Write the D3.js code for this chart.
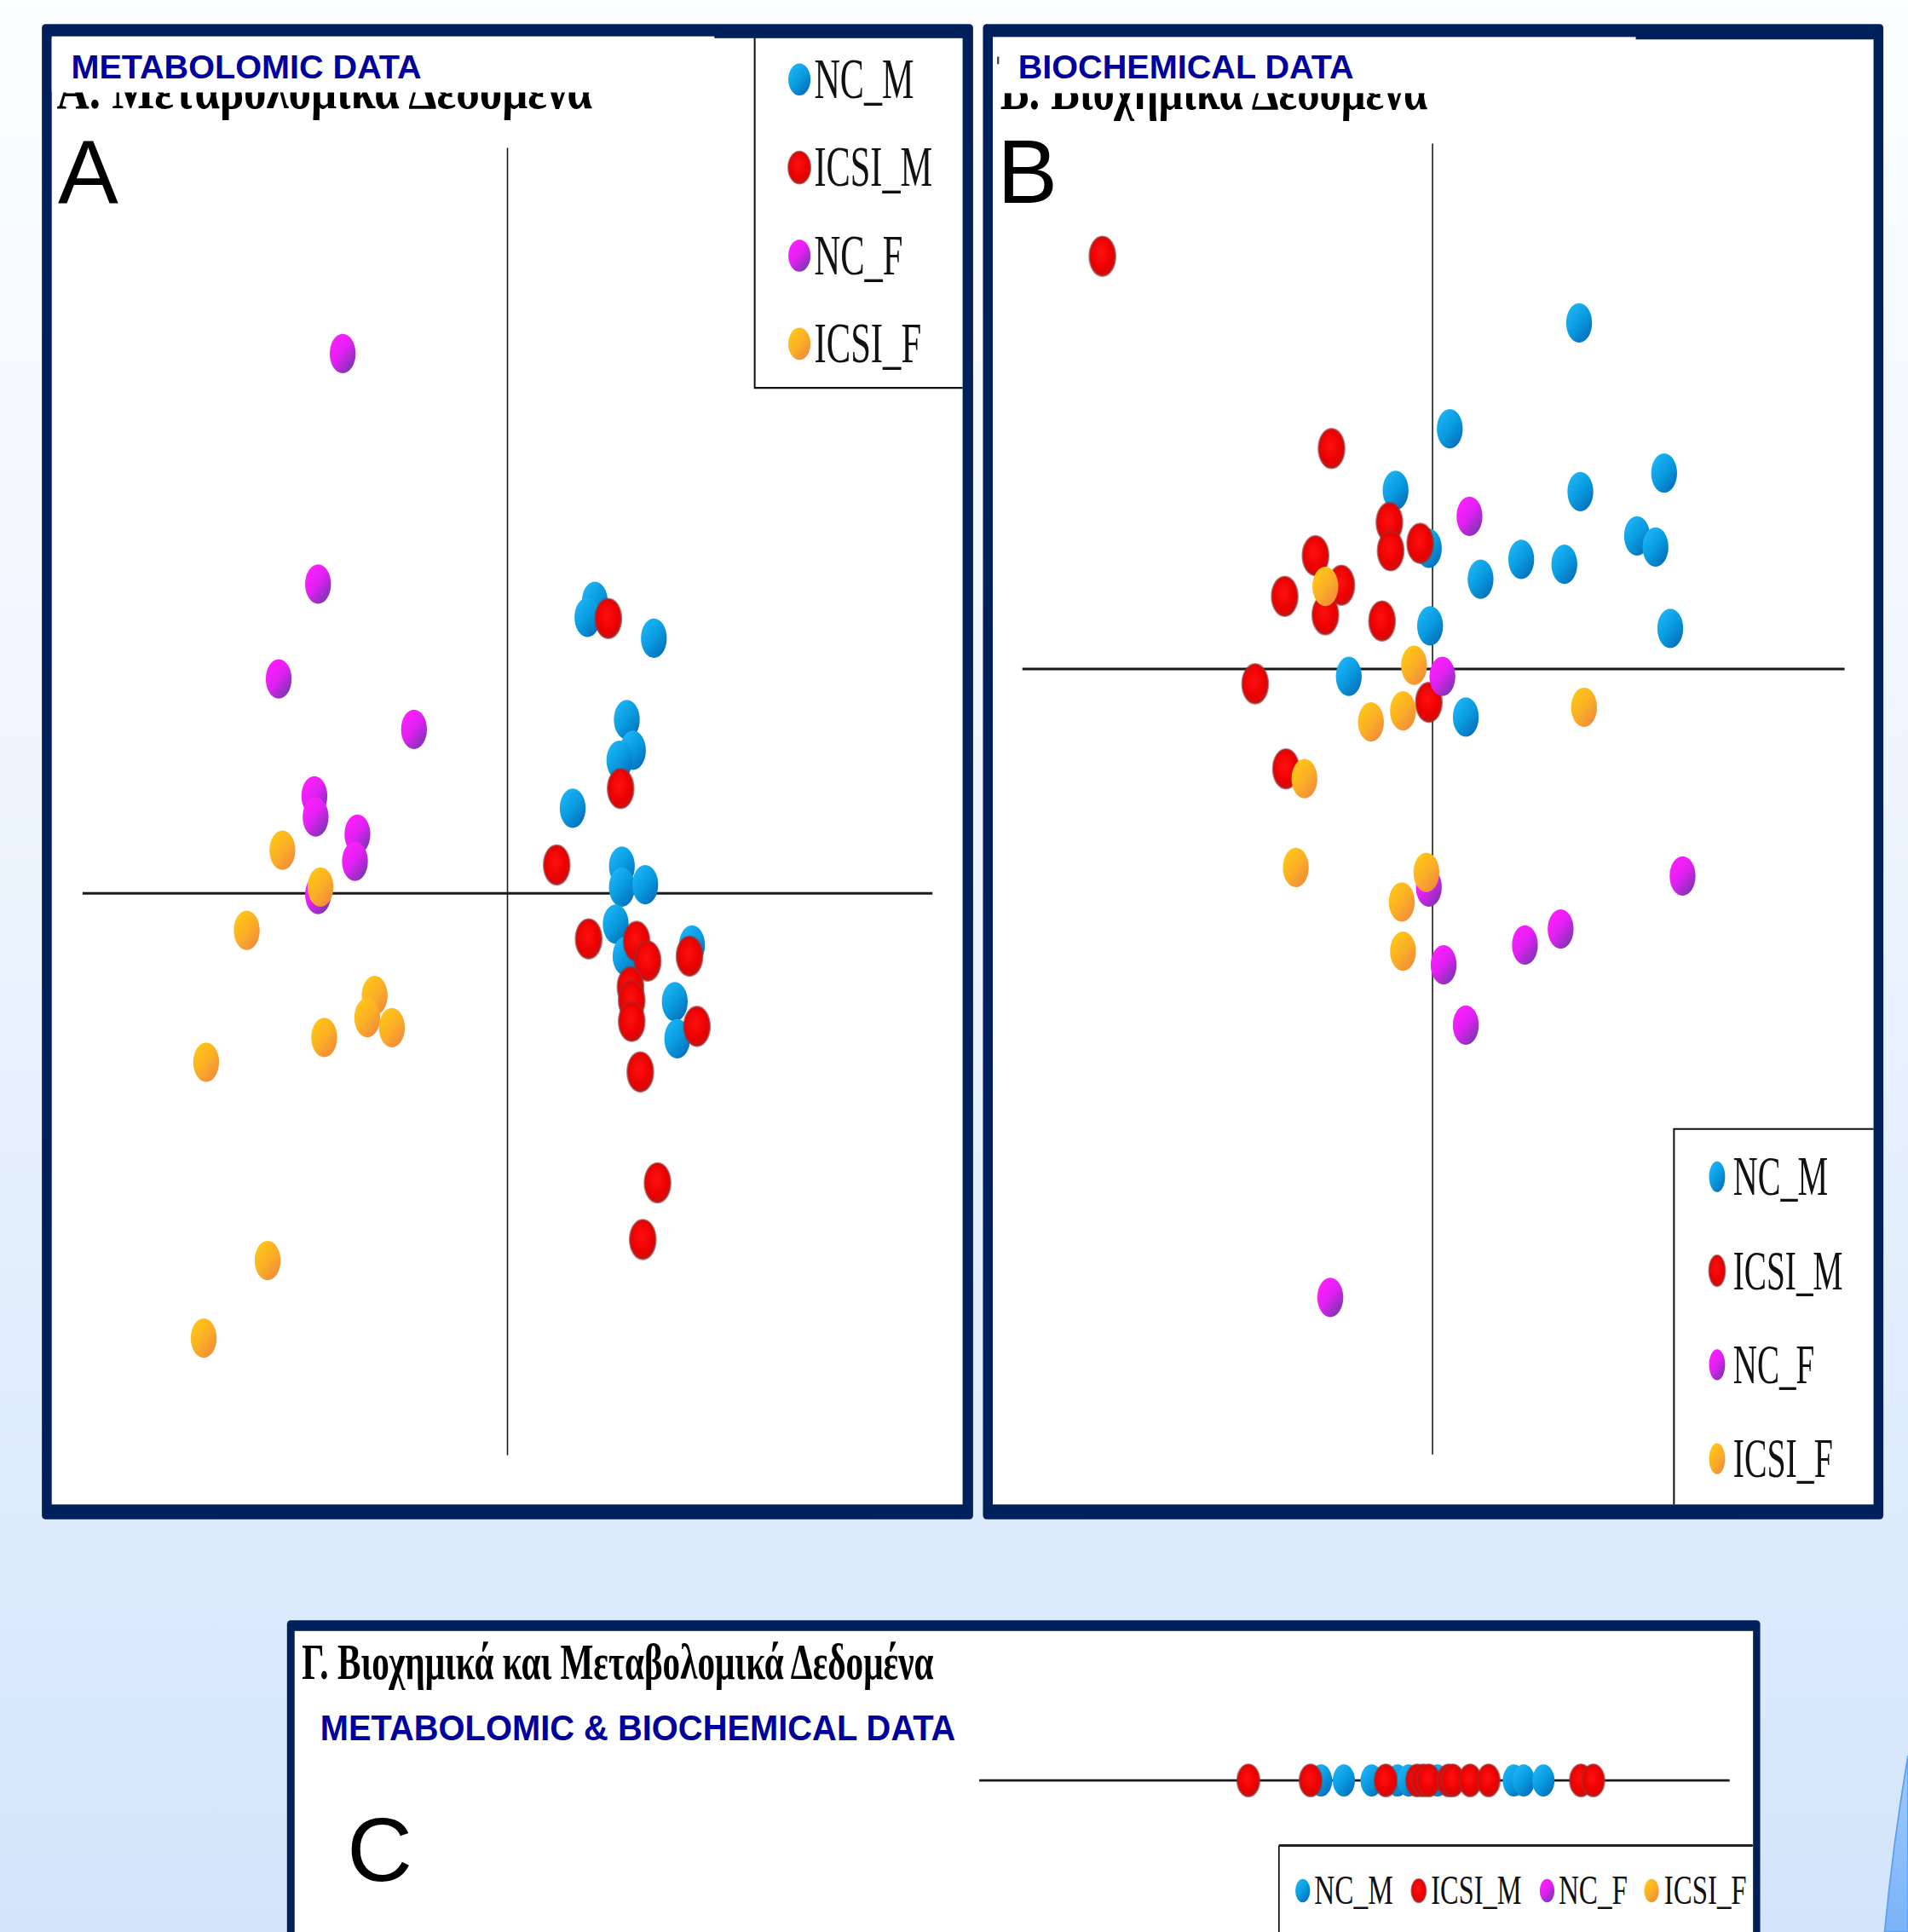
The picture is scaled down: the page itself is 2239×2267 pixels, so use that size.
<!DOCTYPE html>
<html><head><meta charset="utf-8">
<script src="https://cdn.jsdelivr.net/npm/d3@7"></script>
<style>html,body{margin:0;padding:0;overflow:hidden;background:#fff}</style>
</head><body>
<script>
// ---------- DATA ----------
const groups = ["NC_M", "ICSI_M", "NC_F", "ICSI_F"];

// Panel A – metabolomic data scores [comp1, comp2]
const aNC_M = [[0.71,2.37],[0.65,2.24],[1.19,2.07],[0.97,1.41],[1.02,1.16],[0.91,1.08],[0.53,0.69],[0.93,0.22],[0.93,0.05],[1.12,0.07],[0.88,-0.25],[0.96,-0.51],[1.50,-0.42],[1.36,-0.88],[1.38,-1.18]];
const aICSI_M = [[0.82,2.23],[0.92,0.85],[0.40,0.23],[0.66,-0.37],[1.05,-0.39],[1.14,-0.55],[1.48,-0.51],[1.00,-0.76],[1.01,-0.87],[1.01,-1.04],[1.54,-1.08],[1.08,-1.45],[1.22,-2.35],[1.10,-2.81]];
const aNC_F = [[-1.34,4.38],[-1.54,2.51],[-1.86,1.74],[-0.76,1.33],[-1.57,0.79],[-1.56,0.62],[-1.22,0.48],[-1.24,0.26],[-1.54,-0.01]];
const aICSI_F = [[-1.83,0.35],[-1.52,0.05],[-2.12,-0.30],[-1.08,-0.83],[-1.14,-1.01],[-0.94,-1.09],[-1.49,-1.17],[-2.45,-1.37],[-1.95,-2.98],[-2.47,-3.61]];

// Panel B – biochemical data scores [comp1, comp2]
const bNC_M = [[1.19,2.81],[0.14,1.95],[-0.30,1.45],[1.20,1.44],[1.88,1.59],[1.66,1.08],[1.81,0.99],[-0.03,0.98],[0.72,0.89],[1.07,0.85],[0.39,0.73],[1.93,0.33],[-0.02,0.35],[-0.68,-0.06],[0.27,-0.39]];
const bICSI_M = [[-2.68,3.35],[-0.82,1.79],[-0.35,1.19],[-0.34,0.96],[-0.10,1.02],[-0.95,0.92],[-0.74,0.68],[-1.20,0.59],[-0.87,0.44],[-0.41,0.39],[-1.44,-0.12],[-0.03,-0.27],[-1.19,-0.81]];
const bNC_F = [[0.30,1.24],[0.08,-0.06],[2.03,-1.68],[-0.03,-1.77],[1.04,-2.11],[0.75,-2.24],[0.09,-2.40],[0.27,-2.89],[-0.83,-5.10]];
const bICSI_F = [[-0.87,0.67],[-0.15,0.03],[-0.24,-0.34],[-0.50,-0.43],[1.23,-0.31],[-1.04,-0.89],[-1.11,-1.61],[-0.05,-1.65],[-0.25,-1.89],[-0.24,-2.29]];

// Panel C – combined data, single component
const cNC_M = [-0.27,-0.085,0.14,0.35,0.44,0.675,1.295,1.375,1.535];
const cICSI_M = [-0.86,-0.355,0.255,0.51,0.56,0.605,0.765,0.80,0.94,1.09,1.84,1.94];
const cNC_F = [];
const cICSI_F = [];

const titleA = "Α. Μεταβολομικά Δεδομένα";
const titleB = "Β. Βιοχημικά Δεδομένα";
const titleC = "Γ. Βιοχημικά και Μεταβολομικά Δεδομένα";
const labelA = "METABOLOMIC DATA";
const labelB = "BIOCHEMICAL DATA";
const labelC = "METABOLOMIC & BIOCHEMICAL DATA";

// ---------- SETUP ----------
const W = 1549, H = 1568;
const NAVY = "#00205b", LABEL = "#00009c";
const SERIF = "'Liberation Serif','Times New Roman',serif";
const SANS = "'Liberation Sans',Arial,sans-serif";

const svg = d3.select("body").append("svg")
  .attr("width", 2239).attr("height", 2267)
  .attr("viewBox", `0 0 ${W} ${H}`).attr("preserveAspectRatio", "none");
const defs = svg.append("defs");

function lin(id, stops, x1, y1, x2, y2) {
  const g = defs.append("linearGradient").attr("id", id)
    .attr("x1", x1).attr("y1", y1).attr("x2", x2).attr("y2", y2);
  stops.forEach(([o, c]) => g.append("stop").attr("offset", o).attr("stop-color", c));
}
lin("bg", [[0, "#fdfeff"], [0.35, "#f0f6fe"], [0.7, "#e1edfc"], [1, "#d3e5fb"]], 0, 0, 0, 1);
lin("curve", [[0, "#9ccafb"], [1, "#7cb3f7"]], 0, 0, 0, 1);
lin("gNC_M", [[0, "#1cb4f6"], [0.5, "#089ade"], [1, "#066cba"]], 0.15, 0.1, 0.85, 0.95);
lin("gNC_F", [[0, "#ff1eff"], [0.45, "#e220f2"], [1, "#7636ae"]], 0.15, 0.1, 0.85, 0.95);
lin("gICSI_F", [[0, "#ffc616"], [0.5, "#fbae26"], [1, "#ef8a3c"]], 0.15, 0.1, 0.85, 0.95);
const rg = defs.append("radialGradient").attr("id", "gICSI_M").attr("cx", 0.45).attr("cy", 0.42).attr("r", 0.6);
[[0, "#ff1010"], [0.7, "#ea0000"], [1, "#c01515"]].forEach(([o, c]) => rg.append("stop").attr("offset", o).attr("stop-color", c));

const style = {
  NC_M: {fill: "url(#gNC_M)", stroke: "none"},
  ICSI_M: {fill: "url(#gICSI_M)", stroke: "rgba(160,45,45,0.65)"},
  NC_F: {fill: "url(#gNC_F)", stroke: "none"},
  ICSI_F: {fill: "url(#gICSI_F)", stroke: "none"}
};

// background
svg.append("rect").attr("width", W).attr("height", H).attr("fill", "url(#bg)");
svg.append("path").attr("d", "M1549,1425 Q1537,1495 1530,1568 L1549,1568 Z")
  .attr("fill", "url(#curve)").attr("stroke", "#5e9ef0").attr("stroke-width", 1.2);

// ---------- helpers ----------
function frame(o) {
  svg.append("rect").attr("x", o.x).attr("y", o.y).attr("width", o.w).attr("height", o.h)
    .attr("rx", 3).attr("fill", NAVY);
  svg.append("rect").attr("x", o.ix).attr("y", o.iy).attr("width", o.iw).attr("height", o.ih)
    .attr("fill", "#fff");
}
// text squeezed horizontally to a target width (condensed type as in the figure)
function condText(g, txt, x, y, fs, target, family, weight, fill) {
  const t = g.append("text").attr("x", 0).attr("y", 0)
    .attr("font-family", family).attr("font-size", fs)
    .attr("font-weight", weight || "normal").attr("fill", fill || "#111").text(txt);
  const w = t.node().getComputedTextLength() || target;
  t.attr("transform", `translate(${x},${y}) scale(${target / w},1)`);
  return t;
}
function dots(g, data, key, x, y, rx, ry) {
  const s = style[key];
  g.append("g").selectAll("ellipse").data(data).join("ellipse")
    .attr("cx", d => x(d[0])).attr("cy", d => y(d[1]))
    .attr("rx", rx).attr("ry", ry)
    .attr("fill", s.fill).attr("stroke", s.stroke).attr("stroke-width", 1.6);
}
function legendV(g, L) {
  groups.forEach((k, i) => {
    const cy = L.y0 + i * L.step;
    const s = style[k];
    g.append("ellipse").attr("cx", L.dx).attr("cy", cy).attr("rx", L.rx).attr("ry", L.ry)
      .attr("fill", s.fill).attr("stroke", s.stroke).attr("stroke-width", 1.4);
    condText(g, k, L.tx, cy + L.base, L.fs, L.len[i], SERIF, "normal", "#111");
  });
}
function greek(g, txt, x, y, fs, len, weight, clipTop, id) {
  const holder = g.append("g");
  if (clipTop != null) {
    defs.append("clipPath").attr("id", id).append("rect")
      .attr("x", 0).attr("y", clipTop).attr("width", W).attr("height", 200);
    holder.attr("clip-path", `url(#${id})`);
  }
  condText(holder, txt, x, y, fs, len, SERIF, weight, "#000");
}
function label(g, txt, x, y, fs, len) {
  condText(g, txt, x, y, fs, len, SANS, "bold", LABEL);
}
function bigLetter(g, txt, x, y) {
  g.append("text").attr("x", x).attr("y", y).text(txt)
    .attr("font-family", SANS).attr("font-size", 73.5).attr("fill", "#000");
}

// ---------- PANEL A ----------
frame({x: 34, y: 19.5, w: 756, h: 1213.5, ix: 42, iy: 31, iw: 739.5, ih: 1190});
const gA = svg.append("g");
greek(gA, titleA, 46, 87.5, 46, 435, "bold", 75, "clipA");
gA.append("rect").attr("x", 42).attr("y", 29.5).attr("width", 538).attr("height", 45).attr("fill", "#fff");
label(gA, labelA, 57.7, 63.4, 27.4, 284.5);
bigLetter(gA, "A", 47, 164.9);

const xA = d3.scaleLinear().domain([-3.455, 3.455]).range([67, 757]);
const yA = d3.scaleLinear().domain([-4.56, 6.05]).range([1181, 120]);
gA.append("line").attr("x1", xA(0)).attr("x2", xA(0)).attr("y1", yA.range()[0]).attr("y2", yA.range()[1])
  .attr("stroke", "#1a1a1a").attr("stroke-width", 1.1);
gA.append("line").attr("x1", xA.range()[0]).attr("x2", xA.range()[1]).attr("y1", yA(0)).attr("y2", yA(0))
  .attr("stroke", "#1a1a1a").attr("stroke-width", 2);
gA.append("path").attr("d", "M612.7,31 V314.8 H781.5").attr("fill", "none").attr("stroke", "#111").attr("stroke-width", 1.4);
legendV(gA, {dx: 649, tx: 661, y0: 64.5, step: 71.5, base: 15, rx: 9, ry: 13, fs: 47, len: [81, 96, 72, 87]});
const A = {NC_M: aNC_M, ICSI_M: aICSI_M, NC_F: aNC_F, ICSI_F: aICSI_F};
groups.forEach(k => dots(gA, A[k], k, xA, yA, 10.5, 16));

// ---------- PANEL B ----------
frame({x: 798, y: 19.5, w: 731, h: 1213.5, ix: 806, iy: 32, iw: 715, ih: 1189});
const gB = svg.append("g");
greek(gB, titleB, 812, 88.8, 46, 347, "bold", 75.5, "clipB");
gB.append("rect").attr("x", 806).attr("y", 30).attr("width", 522).attr("height", 45.5).attr("fill", "#fff");
gB.append("rect").attr("x", 809.5).attr("y", 46).attr("width", 1.6).attr("height", 6).attr("fill", "#444");
label(gB, labelB, 826.5, 63.4, 27.4, 272.5);
bigLetter(gB, "B", 809.6, 164.9);

const xB = d3.scaleLinear().domain([-3.33, 3.345]).range([830, 1497.5]);
const yB = d3.scaleLinear().domain([-6.375, 4.265]).range([1180.5, 116.5]);
gB.append("line").attr("x1", xB(0)).attr("x2", xB(0)).attr("y1", yB.range()[0]).attr("y2", yB.range()[1])
  .attr("stroke", "#1a1a1a").attr("stroke-width", 1.1);
gB.append("line").attr("x1", xB.range()[0]).attr("x2", xB.range()[1]).attr("y1", yB(0)).attr("y2", yB(0))
  .attr("stroke", "#1a1a1a").attr("stroke-width", 2);
gB.append("path").attr("d", "M1359,1221 V916.3 H1521").attr("fill", "none").attr("stroke", "#111").attr("stroke-width", 1.4);
legendV(gB, {dx: 1394, tx: 1407, y0: 955, step: 76.3, base: 15, rx: 6.5, ry: 12.5, fs: 45.5, len: [77, 89, 66, 81]});
const B = {NC_M: bNC_M, ICSI_M: bICSI_M, NC_F: bNC_F, ICSI_F: bICSI_F};
groups.forEach(k => dots(gB, B[k], k, xB, yB, 10.5, 16));

// ---------- PANEL C ----------
frame({x: 233, y: 1315, w: 1196, h: 320, ix: 239.2, iy: 1323.7, iw: 1184, ih: 320});
const gC = svg.append("g");
greek(gC, titleC, 245, 1362.4, 41, 513, "bold", null, null);
label(gC, labelC, 260, 1412.5, 29, 515.7);
bigLetter(gC, "C", 281.7, 1526.5);

const xC = d3.scaleLinear().domain([-3.045, 3.047]).range([795, 1404.2]);
const yC = d3.scaleLinear().domain([-1, 1]).range([1475, 1415]);
gC.append("line").attr("x1", xC.range()[0]).attr("x2", xC.range()[1]).attr("y1", yC(0)).attr("y2", yC(0))
  .attr("stroke", "#1a1a1a").attr("stroke-width", 1.8);
const C = {NC_M: cNC_M, ICSI_M: cICSI_M, NC_F: cNC_F, ICSI_F: cICSI_F};
groups.forEach(k => dots(gC, C[k].map(v => [v, 0]), k, xC, yC, 9, 13));

// legend C (horizontal)
gC.append("path").attr("d", "M1038.3,1568 V1497.8").attr("stroke", "#111").attr("stroke-width", 1.2);
gC.append("path").attr("d", "M1038.3,1497.8 H1423").attr("stroke", "#222").attr("stroke-width", 2);
const cLeg = {dx: [1057.6, 1151.8, 1256, 1340.8], tx: [1067, 1161.8, 1265.3, 1351], len: [64, 73.4, 56, 67]};
groups.forEach((k, i) => {
  const s = style[k];
  gC.append("ellipse").attr("cx", cLeg.dx[i]).attr("cy", 1534.5).attr("rx", 6).attr("ry", 9.5)
    .attr("fill", s.fill).attr("stroke", s.stroke).attr("stroke-width", 1.2);
  condText(gC, k, cLeg.tx[i], 1545, 33, cLeg.len[i], SERIF, "normal", "#111");
});
</script>
</body></html>
